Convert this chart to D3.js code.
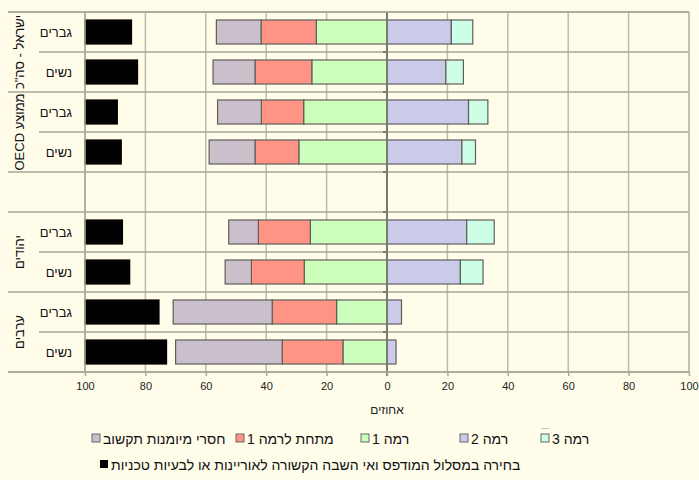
<!DOCTYPE html>
<html><head><meta charset="utf-8">
<script src="https://cdn.jsdelivr.net/npm/d3@7"></script>
<style>
html,body{margin:0;padding:0;background:#fffcea;}
svg{display:block;font-family:"Liberation Sans",Arial,sans-serif;}
</style></head>
<body><svg id="c" width="699" height="480"></svg>
<script>
// ---- data ----
const rowIds = ["il_m","il_w","oecd_m","oecd_w","gap","jew_m","jew_w","arab_m","arab_w"];
const rowLabels = ["גברים","נשים","גברים","נשים","","גברים","נשים","גברים","נשים"];
const groups = [
  {label:'ישראל - סה"כ', rows:["il_m","il_w"]},
  {label:"ממוצע OECD", rows:["oecd_m","oecd_w"]},
  {label:"יהודים", rows:["jew_m","jew_w"]},
  {label:"ערבים", rows:["arab_m","arab_w"]}
];
// percentages per row (left side shown as positive)
const printedPath = [15.4,17.4,10.7,12.0,null,12.4,14.8,24.5,27.0];   // black, anchored at left edge
const noIctSkills = [14.8,13.9,14.5,15.2,null, 9.8, 8.7,32.8,35.3];
const belowLevel1 = [18.3,18.8,14.0,14.5,null,17.2,17.5,21.3,20.1];
const level1      = [23.4,24.9,27.6,29.2,null,25.4,27.4,16.7,14.6];
const level2      = [21.3,19.5,27.0,24.8,null,26.4,24.3, 4.8, 3.0];
const level3      = [ 7.1, 5.8, 6.4, 4.5,null, 9.1, 7.5, 0.0, 0.0];
const tickValues = [-100,-80,-60,-40,-20,0,20,40,60,80,100];
const axisTitle = "אחוזים";
const legendNames = ["חסרי מיומנות תקשוב","מתחת לרמה 1","רמה 1","רמה 2","רמה 3"];
const legendColors = ["#cabfca","#ff9486","#ccffbc","#cbcbe9","#ccffe6"];
const blackLegend = "בחירה במסלול המודפס ואי השבה הקשורה לאוריינות או לבעיות טכניות";

// ---- layout ----
const svg = d3.select("#c");
const W=699,H=480;
const pL=85,pR=689,pT=12,pB=372,labelLeft=8,innerLeft=39;
svg.append("rect").attr("width",W).attr("height",H).attr("fill","#fffcea");

const x = d3.scaleLinear().domain([-100,100]).range([pL,pR]);
const y = d3.scaleBand().domain(rowIds).range([pT,pB]).paddingInner(0.4).paddingOuter(0.2);
const step = y.step();

const grid = svg.append("g");
grid.selectAll("line.v").data(tickValues.filter(v=>v!==0)).join("line")
  .attr("x1",d=>x(d)).attr("x2",d=>x(d)).attr("y1",pT).attr("y2",pB)
  .attr("stroke","#bdbcaa").attr("stroke-width",1.5);
const groupStarts = new Set(["il_m","oecd_m","gap","jew_m","arab_m"]);
const seps = rowIds.map((id,i)=>({y:pT+i*step, grp: groupStarts.has(id) || (i>0 && rowIds[i-1]==="gap")}));
seps.push({y:pB,grp:true});
grid.selectAll("line.h").data(seps).join("line")
  .attr("x1",d=>d.grp?labelLeft:innerLeft).attr("x2",pR)
  .attr("y1",d=>d.y).attr("y2",d=>d.y)
  .attr("stroke","#a9a899").attr("stroke-width",1.5);
grid.append("line").attr("x1",pR).attr("x2",pR).attr("y1",pT).attr("y2",pB)
  .attr("stroke","#bdbcaa").attr("stroke-width",1.5);

// ---- bars ----
const rows = rowIds.map((id,i)=>({id,i})).filter(d=>d.id!=="gap");
const segs = [];
rows.forEach(({id,i})=>{
  const g=level1[i], r=belowLevel1[i], s=noIctSkills[i];
  segs.push({id, x0:-g, x1:0, c:legendColors[2]});
  segs.push({id, x0:-(g+r), x1:-g, c:legendColors[1]});
  segs.push({id, x0:-(g+r+s), x1:-(g+r), c:legendColors[0]});
  segs.push({id, x0:0, x1:level2[i], c:legendColors[3]});
  if(level3[i]>0) segs.push({id, x0:level2[i], x1:level2[i]+level3[i], c:legendColors[4]});
  segs.push({id, x0:-100, x1:-100+printedPath[i], c:"#000000", black:true});
});
svg.append("g").selectAll("rect").data(segs).join("rect")
  .attr("x",d=>x(d.x0)).attr("width",d=>x(d.x1)-x(d.x0))
  .attr("y",d=>y(d.id)).attr("height",y.bandwidth())
  .attr("fill",d=>d.c)
  .attr("stroke",d=>d.black?"#000":"#5f5f5a").attr("stroke-width",1.2);

const zg = svg.append("g");
zg.append("line").attr("x1",x(0)).attr("x2",x(0)).attr("y1",pT).attr("y2",pB+4)
  .attr("stroke","#7a7a72").attr("stroke-width",2);
zg.selectAll("line.t").data(seps.slice(1,-1)).join("line")
  .attr("x1",x(0)-4).attr("x2",x(0)).attr("y1",d=>d.y).attr("y2",d=>d.y)
  .attr("stroke","#7a7a72").attr("stroke-width",2);

// ---- x axis ----
const axis = d3.axisBottom(x).tickValues(tickValues).tickFormat(d=>Math.abs(d)).tickSize(4).tickPadding(6);
const ag = svg.append("g").attr("transform",`translate(0,${pB})`).call(axis);
ag.select(".domain").remove();
ag.selectAll(".tick line").attr("stroke","#a9a899").attr("stroke-width",1.5);
ag.selectAll(".tick text").attr("font-size",11).attr("fill","#222").attr("font-family","'Liberation Sans',Arial,sans-serif");
ag.append("line").attr("x1",labelLeft).attr("x2",pR).attr("y1",0).attr("y2",0)
  .attr("stroke","#a9a899").attr("stroke-width",1.5);
svg.append("line").attr("x1",labelLeft).attr("x2",pR).attr("y1",pT).attr("y2",pT)
  .attr("stroke","#a9a899").attr("stroke-width",1.5);
svg.append("line").attr("x1",pL).attr("x2",pL).attr("y1",pT).attr("y2",pB)
  .attr("stroke","#a9a899").attr("stroke-width",1.5);

svg.append("text").attr("x",x(0)).attr("y",414).attr("text-anchor","middle")
  .attr("font-size",12).attr("fill","#222").text(axisTitle);

// ---- row labels ----
svg.append("g").selectAll("text").data(rowIds.map((id,i)=>({id,l:rowLabels[i]})).filter(d=>d.l))
  .join("text").attr("x",72).attr("y",d=>y(d.id)+y.bandwidth()/2+5)
  .attr("text-anchor","end").attr("font-size",13).attr("fill","#111").text(d=>d.l);
svg.append("g").selectAll("text").data(groups).join("text")
  .attr("transform",d=>{const cy=(y(d.rows[0])+y(d.rows[1])+y.bandwidth())/2; return `translate(24,${cy}) rotate(-90)`;})
  .attr("text-anchor","middle").attr("direction","rtl").style("unicode-bidi","embed")
  .attr("font-size",13).attr("fill","#111").text(d=>d.label);

// ---- legend ----
const lg = svg.append("g");
const itemX = [92,236,361,460,541];
legendNames.forEach((n,i)=>{
  lg.append("rect").attr("x",itemX[i]).attr("y",434).attr("width",8).attr("height",8)
    .attr("fill",legendColors[i]).attr("stroke","#666").attr("stroke-width",1);
  lg.append("text").attr("x",itemX[i]+11).attr("y",444).attr("font-size",14).attr("fill","#111").text(n);
});
lg.append("line").attr("x1",541).attr("x2",550).attr("y1",428.5).attr("y2",428.5).attr("stroke","#c8c8c0").attr("stroke-width",1);
lg.append("rect").attr("x",100).attr("y",460).attr("width",8).attr("height",8).attr("fill","#000");
lg.append("text").attr("x",111).attr("y",470).attr("font-size",14).attr("fill","#111").text(blackLegend);
</script></body></html>
